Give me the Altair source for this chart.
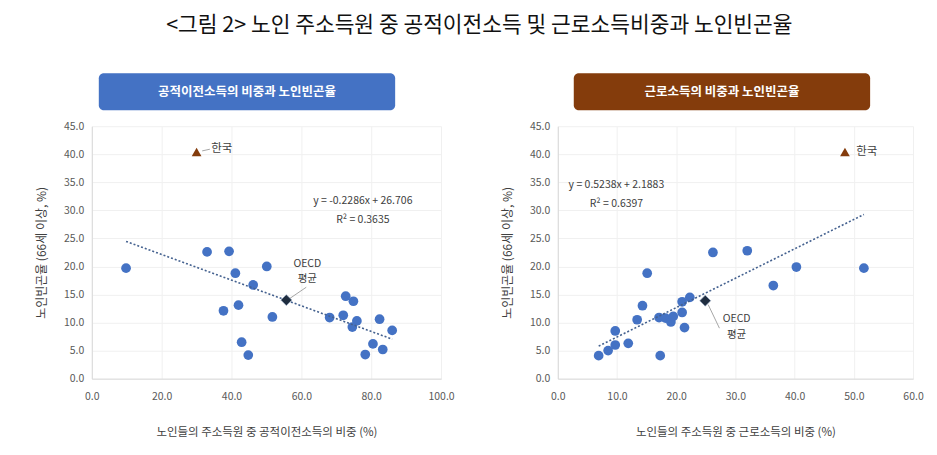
import altair as alt
import pandas as pd

FONT = "Noto Sans CJK KR"

# Left panel: share of public transfer income (%) vs elderly poverty rate (%)
pub_x = [9.8, 33.0, 39.3, 41.1, 50.1, 46.2, 37.7, 42.0, 51.7, 42.9, 44.8,
         68.1, 72.0, 72.7, 74.9, 75.9, 74.6, 82.4, 86.0, 80.5, 83.3, 78.3]
pub_y = [19.7, 22.6, 22.7, 18.8, 20.0, 16.7, 12.1, 13.1, 11.0, 6.5, 4.2,
         10.9, 11.3, 14.7, 13.8, 10.3, 9.2, 10.6, 8.6, 6.2, 5.2, 4.3]
pub_oecd = (55.7, 14.0)
pub_korea = (30.0, 40.4)
pub_slope, pub_icpt = -0.2286, 26.706

# Right panel: share of earned income (%) vs elderly poverty rate (%)
earn_x = [6.9, 8.5, 9.7, 9.7, 11.9, 13.4, 14.3, 15.1, 17.3, 17.1, 18.2,
          19.1, 19.5, 21.0, 21.0, 21.4, 22.3, 26.2, 32.0, 36.4, 40.3, 51.7]
earn_y = [4.1, 5.0, 6.0, 8.5, 6.3, 10.5, 13.0, 18.8, 4.1, 10.9, 10.8,
          10.1, 11.1, 11.8, 13.7, 9.1, 14.5, 22.5, 22.8, 16.6, 19.9, 19.7]
earn_oecd = (24.9, 13.9)
earn_korea = (48.5, 40.4)
earn_slope, earn_icpt = 0.5238, 2.1883

TITLE = "<그림 2> 노인 주소득원 중 공적이전소득 및 근로소득비중과 노인빈곤율"
Y_TITLE = "노인빈곤율 (66세 이상, %)"
Y_TICKS = [0, 5, 10, 15, 20, 25, 30, 35, 40, 45]


def panel(xs, ys, oecd, korea, slope, icpt, xticks, width, header,
          header_color, box_x, x_title, eq_pos, eq_text, r2_text,
          oecd_lbl, oecd_lead, korea_lbl, korea_lead):
    xmax = xticks[-1]
    xscale = alt.Scale(domain=[0, xmax], nice=False)
    yscale = alt.Scale(domain=[0, 45], nice=False)
    xaxis = alt.Axis(values=xticks, format=".1f", title=x_title, grid=True,
                     labelOverlap=False, labelFlush=False)
    yaxis = alt.Axis(values=Y_TICKS, format=".1f", title=Y_TITLE, grid=True,
                     labelOverlap=False, labelFlush=False)
    X = alt.X("x:Q", scale=xscale, axis=xaxis)
    Y = alt.Y("y:Q", scale=yscale, axis=yaxis)

    pts = pd.DataFrame({"x": xs, "y": ys})
    trend = pd.DataFrame({"x": [min(xs), max(xs)]})

    base_pts = alt.Chart(pts).mark_circle(size=95, opacity=1, color="#4472C4").encode(x=X, y=Y)
    line = alt.Chart(trend).transform_calculate(
        y=f"{slope} * datum.x + {icpt}"
    ).mark_line(color="#44618F", strokeDash=[2, 2], strokeWidth=1.6).encode(x=X, y=Y)

    od = pd.DataFrame({"x": [oecd[0]], "y": [oecd[1]]})
    diamond = alt.Chart(od).mark_point(shape="diamond", filled=True, size=120,
                                       color="#1F2D3F", stroke="#8FA3BF",
                                       strokeWidth=0.6, opacity=1).encode(x=X, y=Y)
    kd = pd.DataFrame({"x": [korea[0]], "y": [korea[1]]})
    tri = alt.Chart(kd).mark_point(shape="triangle-up", filled=True, size=95,
                                   color="#843C0C", opacity=1).encode(x=X, y=Y)

    leads = [oecd_lead]
    if korea_lead is not None:
        leads.append(korea_lead)
    ld = pd.DataFrame(leads, columns=["x", "y", "x2", "y2"])
    lead = alt.Chart(ld).mark_rule(color="#A6A6A6", strokeWidth=1).encode(
        x=X, y=Y, x2="x2:Q", y2="y2:Q")

    labels = pd.DataFrame({
        "x": [eq_pos[0], eq_pos[0], oecd_lbl[0], oecd_lbl[0], korea_lbl[0]],
        "y": [eq_pos[1], eq_pos[1] - 3.4, oecd_lbl[1], oecd_lbl[1] - 2.8, korea_lbl[1]],
        "t": [eq_text, r2_text, "OECD", "평균", "한국"],
        "a": ["center", "center", "center", "center", "left"],
    })
    txt_c = alt.Chart(labels[labels.a == "center"]).mark_text(
        font=FONT, fontSize=10.5, color="#404040", align="center").encode(
        x=X, y=Y, text="t:N")
    txt_l = alt.Chart(labels[labels.a == "left"]).mark_text(
        font=FONT, fontSize=11.5, color="#404040", align="left").encode(
        x=X, y=Y, text="t:N")

    box = alt.Chart(pd.DataFrame({"h": [header]})).mark_rect(
        color=header_color, cornerRadius=5).encode(
        x=alt.value(box_x), x2=alt.value(box_x + 297),
        y=alt.value(-53), y2=alt.value(-16))
    box_txt = alt.Chart(pd.DataFrame({"h": [header]})).mark_text(
        font=FONT, fontSize=12.5, fontWeight="bold", color="white").encode(
        x=alt.value(box_x + 148.5), y=alt.value(-34.5), text="h:N")

    return alt.layer(base_pts, box, box_txt, line, lead, diamond, tri,
                     txt_c, txt_l).properties(width=width, height=253)


left = panel(pub_x, pub_y, pub_oecd, pub_korea, pub_slope, pub_icpt,
             [0, 20, 40, 60, 80, 100], 350,
             "공적이전소득의 비중과 노인빈곤율", "#4472C4", 7,
             "노인들의 주소득원 중 공적이전소득의 비중 (%)",
             (77.6, 31.6), "y = -0.2286x + 26.706", "R² = 0.3635",
             (61.7, 20.5), (56.7, 14.3, 61.4, 16.3),
             (34.2, 40.9), (31.6, 40.6, 33.8, 40.9))
right = panel(earn_x, earn_y, earn_oecd, earn_korea, earn_slope, earn_icpt,
              [0, 10, 20, 30, 40, 50, 60], 356,
              "근로소득의 비중과 노인빈곤율", "#843C0C", 16,
              "노인들의 주소득원 중 근로소득의 비중 (%)",
              (9.9, 34.5), "y = 0.5238x + 2.1883", "R² = 0.6397",
              (30.2, 10.6), (25.4, 13.2, 27.3, 9.0),
              (50.4, 40.4), None)

chart = alt.hconcat(left, right, spacing=46).properties(
    title=alt.TitleParams(TITLE, fontSize=21.5, fontWeight="normal", font=FONT,
                          color="#111111", anchor="middle", offset=37),
    padding={"left": 27, "top": 6, "right": 5, "bottom": 2},
).configure_view(stroke=None).configure_axis(
    labelFont=FONT, titleFont=FONT, labelFontSize=10.5,
    labelColor="#595959", titleColor="#404040", titleFontWeight="normal",
    gridColor="#F0F0F0", domainColor="#D9D9D9", ticks=False,
).configure_axisX(titlePadding=24, labelPadding=13, titleFontSize=11.5
).configure_axisY(titlePadding=15, labelPadding=8, titleFontSize=12)

chart.save("out.html", embed_options={"renderer": "svg", "actions": False})
